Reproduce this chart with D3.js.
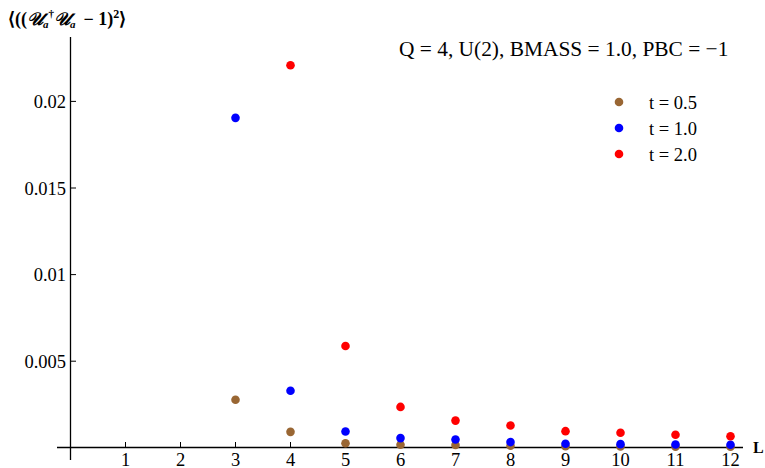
<!DOCTYPE html>
<html><head><meta charset="utf-8">
<script src="https://cdn.jsdelivr.net/npm/d3@7"></script>
<style>
body{margin:0;background:#fff;}
svg{display:block;}
</style></head>
<body>
<svg id="c" width="765" height="468" font-family="'Liberation Serif', 'Times New Roman', Times, serif"></svg>
<script>
const L = [3,4,5,6,7,8,9,10,11,12];
const seriesNames = ["t = 0.5","t = 1.0","t = 2.0"];
const seriesColors = ["#996633","#0000ff","#ff0000"];
const t05 = [0.00277,0.00092,0.00026,0.00018,0.00016,0.00012,0.00009,0.00008,0.00007,0.00006];
const t10 = [0.01905,0.00329,0.00094,0.00056,0.00048,0.00033,0.00023,0.00021,0.00019,0.00018];
const t20 = [null,0.02209,0.00588,0.00236,0.00157,0.00129,0.00096,0.00087,0.00075,0.00067];
const xTicks = [1,2,3,4,5,6,7,8,9,10,11,12];
const yTicks = [0.005,0.01,0.015,0.02];
const yTickLabels = ["0.005","0.01","0.015","0.02"];
const title = "Q = 4, U(2), BMASS = 1.0, PBC = \u22121";

const svg = d3.select("#c");
const x = d3.scaleLinear().domain([0,12]).range([70.5,730.5]);
const y = d3.scaleLinear().domain([0,0.02]).range([447.8,101.4]);

const xAxisY = 447.5;
svg.append("line").attr("x1",57).attr("x2",743).attr("y1",xAxisY).attr("y2",xAxisY)
  .attr("stroke","#000").attr("stroke-width",1.3);
svg.append("line").attr("x1",70.5).attr("x2",70.5).attr("y1",37).attr("y2",460)
  .attr("stroke","#000").attr("stroke-width",1.3);

const gx = svg.append("g");
xTicks.forEach(v=>{
  gx.append("line").attr("x1",x(v)).attr("x2",x(v)).attr("y1",xAxisY).attr("y2",xAxisY-5.5)
    .attr("stroke","#000").attr("stroke-width",1);
  gx.append("text").attr("x",x(v)).attr("y",465.5).attr("text-anchor","middle")
    .attr("font-size",18.5).text(v);
});
svg.append("text").attr("x",753).attr("y",453).attr("font-size",16).attr("font-weight","bold").text("L");

yTicks.forEach((v,i)=>{
  svg.append("line").attr("x1",70.5).attr("x2",76).attr("y1",y(v)).attr("y2",y(v))
    .attr("stroke","#000").attr("stroke-width",1);
  svg.append("text").attr("x",66).attr("y",y(v)+6.5).attr("text-anchor","end")
    .attr("font-size",18.5).text(yTickLabels[i]);
});

const yl = svg.append("text").attr("x",8).attr("y",25).attr("font-size",18).attr("font-weight","bold");
yl.append("tspan").text("\u27E8((");
yl.append("tspan").attr("font-style","italic").text("\uD835\uDCB0");
yl.append("tspan").attr("font-size",11).attr("font-style","italic").attr("dy",3).text("a");
yl.append("tspan").attr("font-size",11).attr("dy",-11).text("\u2020");
yl.append("tspan").attr("font-style","italic").attr("dy",8).text("\uD835\uDCB0");
yl.append("tspan").attr("font-size",11).attr("font-style","italic").attr("dy",3).text("a");
yl.append("tspan").attr("dy",-3).text("\u2009 \u2212 1)");
yl.append("tspan").attr("font-size",12).attr("dy",-7).text("2");
yl.append("tspan").attr("dy",7).text("\u27E9");

svg.append("text").attr("x",399).attr("y",56).attr("font-size",21.4).text(title);

const allSeries = [t05,t10,t20];
allSeries.forEach((s,si)=>{
  svg.append("g").selectAll("circle")
    .data(L.map((l,i)=>({l,v:s[i]})).filter(d=>d.v!=null))
    .join("circle").attr("cx",d=>x(d.l)).attr("cy",d=>y(d.v)).attr("r",4.3)
    .attr("fill",seriesColors[si]);
});

seriesNames.forEach((n,i)=>{
  const ly = 102 + i*26;
  svg.append("circle").attr("cx",619).attr("cy",ly).attr("r",4.3).attr("fill",seriesColors[i]);
  svg.append("text").attr("x",649).attr("y",ly+6.5).attr("font-size",18.5).text(n);
});
</script>
</body></html>
